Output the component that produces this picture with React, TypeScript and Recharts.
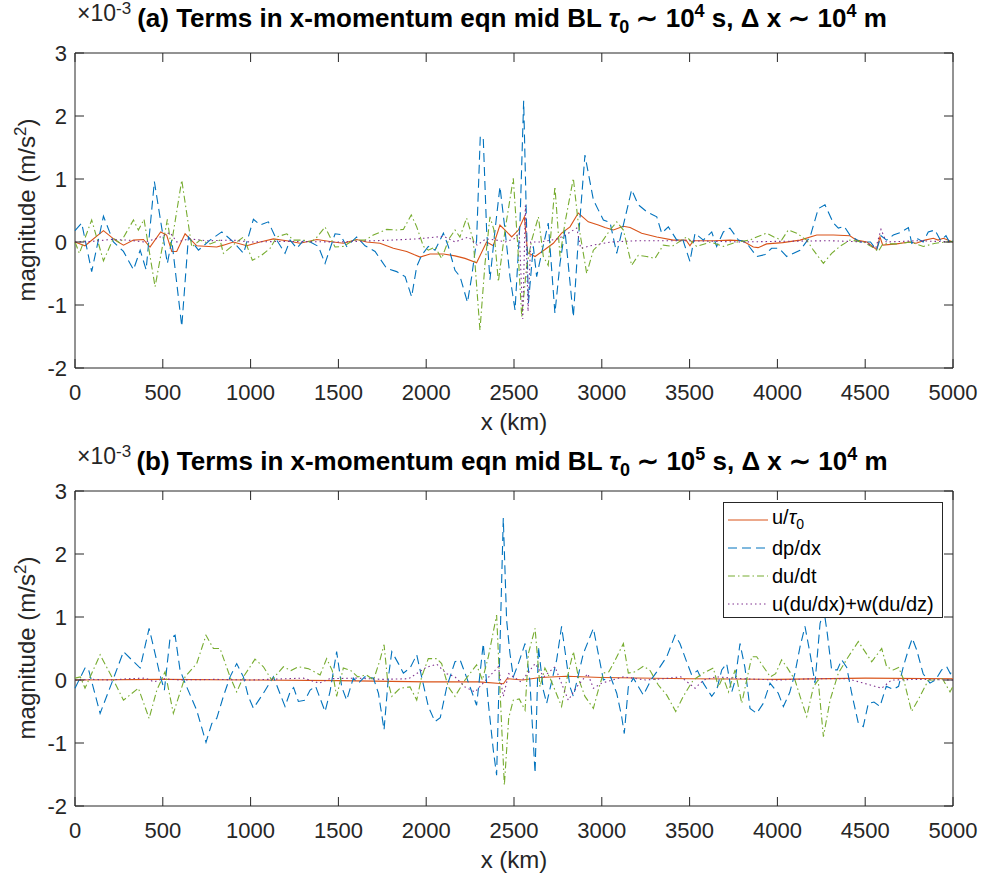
import React from 'react';
import { LineChart, Line, XAxis, YAxis, ReferenceArea, Legend } from 'recharts';

// values are in units of 1e-3 m/s^2, x in km
const xTicks = [0, 500, 1000, 1500, 2000, 2500, 3000, 3500, 4000, 4500, 5000];
const yTicks = [-2, -1, 0, 1, 2, 3];

// panel (a): tau0 ~ 1e4 s
const aU: [number, number][] = [[0,0],[57,-0.06],[162,0.18],[228,0.03],[276,-0.05],[333,0.03],[390,0.04],[427,-0.08],[488,0.16],[522,0.11],[551,-0.15],[579,-0.15],[627,0.13],[693,-0.06],[807,-0.08],[845,-0.05],[902,0],[978,-0.06],[1054,0],[1130,0.05],[1206,0.02],[1282,-0.02],[1377,0.04],[1471,0],[1528,-0.02],[1604,0.04],[1661,0],[1737,-0.02],[1813,-0.1],[1889,-0.15],[1930,-0.2],[1965,-0.24],[2022,-0.19],[2098,-0.19],[2164,-0.22],[2221,-0.26],[2287,-0.33],[2344,0],[2382,-0.06],[2420,0.27],[2449,0.19],[2487,0.08],[2525,0.19],[2559,0.4],[2578,-0.17],[2620,-0.23],[2676,-0.12],[2724,-0.02],[2771,0.14],[2819,0.24],[2866,0.46],[2923,0.32],[2980,0.27],[3018,0.23],[3066,0.19],[3123,0.25],[3161,0.23],[3227,0.14],[3313,0.08],[3407,0.03],[3480,0.03],[3502,-0.06],[3520,0.02],[3640,0.02],[3730,0.03],[3800,0.02],[3863,-0.08],[3890,-0.09],[3939,-0.03],[4030,-0.01],[4129,0.03],[4224,0.11],[4319,0.11],[4413,0.1],[4450,0.03],[4510,0],[4565,-0.12],[4584,0.08],[4600,-0.05],[4680,-0.03],[4750,0],[4790,-0.02],[4840,0.03],[4888,0.06],[4915,0.03],[4945,0.06],[5000,0]];
const aP: [number, number][] = [[0,0.18],[38,0.3],[95,-0.47],[162,0.41],[219,0],[276,-0.15],[333,-0.44],[371,-0.13],[405,-0.44],[452,0.96],[526,-0.34],[551,0.03],[608,-1.34],[646,0.08],[703,-0.13],[769,0.03],[836,0.16],[902,0],[960,-0.18],[1016,0.36],[1054,0.27],[1101,0.32],[1149,0.03],[1196,-0.18],[1225,0.03],[1263,-0.1],[1300,0.02],[1340,0],[1386,-0.07],[1424,-0.34],[1481,0.13],[1510,0.12],[1547,-0.07],[1604,0.08],[1652,-0.06],[1709,-0.15],[1775,-0.42],[1832,-0.47],[1880,-0.55],[1917,-0.87],[1946,-0.39],[1974,-0.21],[2012,-0.07],[2050,-0.13],[2098,0.14],[2126,-0.07],[2164,-0.45],[2193,-0.55],[2235,-0.96],[2259,-0.55],[2287,0.03],[2308,1.68],[2325,1.64],[2344,0.19],[2363,-0.6],[2392,0.19],[2420,0.88],[2449,0.19],[2477,-0.55],[2506,-1.08],[2534,0.3],[2555,2.24],[2582,-0.97],[2610,-0.07],[2629,-0.55],[2657,-0.18],[2695,0.3],[2733,-1.13],[2762,-0.34],[2790,0.19],[2838,-1.19],[2866,0.03],[2904,1.38],[2952,0.67],[2980,0.51],[3009,0.35],[3047,0.31],[3085,-0.18],[3170,0.83],[3208,0.59],[3256,0.48],[3313,0.4],[3341,0.14],[3379,0.24],[3427,0.03],[3460,0.05],[3502,-0.31],[3531,0.14],[3578,0.03],[3626,0.16],[3654,-0.07],[3692,0.16],[3730,0.22],[3778,0.03],[3820,0],[3882,-0.23],[3930,-0.2],[3967,-0.1],[4010,-0.1],[4053,-0.23],[4129,-0.13],[4186,0.08],[4233,0.53],[4271,0.59],[4319,0.3],[4347,0.22],[4380,0.25],[4413,0.11],[4470,0],[4530,0],[4565,-0.13],[4590,0.1],[4622,0.03],[4660,0.11],[4700,0.15],[4746,0.23],[4765,-0.02],[4800,0.05],[4830,0],[4859,0.16],[4897,0.19],[4930,0.02],[4960,0.1],[4983,-0.02],[5000,0.02]];
const aD: [number, number][] = [[0,0],[25,-0.18],[95,0.35],[162,-0.3],[219,0.06],[257,-0.02],[333,0.35],[361,0.19],[393,0.36],[456,-0.71],[526,0.36],[547,-0.07],[608,0.98],[665,-0.08],[712,0.03],[769,-0.03],[826,0.03],[845,-0.18],[921,0],[960,0.08],[1010,-0.29],[1063,-0.21],[1111,-0.1],[1149,0.08],[1206,0.13],[1244,0.03],[1301,0.03],[1339,0],[1370,0.05],[1424,0.24],[1481,-0.08],[1528,-0.07],[1585,0.03],[1652,0.03],[1699,0.11],[1775,0.2],[1832,0.19],[1870,0.2],[1915,0.43],[1946,0.24],[1984,-0.07],[2012,-0.13],[2050,-0.08],[2088,-0.26],[2130,0.05],[2164,0.19],[2192,0.08],[2230,0.38],[2268,0.03],[2306,-1.4],[2335,-0.34],[2363,0.4],[2385,0.2],[2411,-0.63],[2449,0.19],[2496,1.01],[2520,0],[2544,-1.19],[2572,-0.39],[2601,0.03],[2639,0.4],[2667,-0.23],[2695,-0.37],[2733,0.88],[2762,-0.23],[2790,0.3],[2838,1.01],[2866,0.3],[2914,-0.5],[2952,-0.13],[3000,0],[3047,0.19],[3085,0.32],[3123,0.19],[3170,-0.37],[3208,-0.21],[3255,-0.23],[3303,-0.26],[3350,-0.05],[3400,-0.07],[3483,0.08],[3540,-0.07],[3620,0],[3692,-0.07],[3770,0],[3844,0.03],[3882,0.08],[3939,0.14],[3980,0.08],[4024,0.03],[4062,0.19],[4110,0.14],[4167,0.03],[4205,-0.13],[4262,-0.34],[4309,-0.18],[4356,-0.07],[4413,0.03],[4490,0],[4540,-0.08],[4575,-0.15],[4600,-0.03],[4680,-0.03],[4760,0],[4831,-0.07],[4900,-0.02],[4960,0],[5000,0.01]];
const aN: [number, number][] = [[0,0],[100,0.01],[200,0.04],[300,0.03],[400,0],[470,0.06],[541,0.15],[580,0],[650,0.05],[750,0.02],[900,0.03],[1000,0],[1200,0.01],[1500,0],[1800,0.03],[1950,0.05],[2100,0.09],[2164,0],[2240,0.08],[2290,-0.05],[2340,0.05],[2400,0.03],[2450,0],[2500,0.05],[2530,0.15],[2550,-1.22],[2565,0.58],[2580,-1.1],[2595,0],[2650,0],[2750,0.05],[2809,0.14],[2857,0.22],[2880,-0.1],[2950,-0.05],[3050,0],[3200,0.02],[3500,0.02],[3800,0],[4000,0.01],[4300,0.02],[4500,0],[4560,-0.1],[4590,0.2],[4620,0],[4800,0.02],[5000,0]];

// panel (b): tau0 ~ 1e5 s
const bU: [number, number][] = [[0,0],[500,0.01],[1000,0],[1500,-0.01],[2000,-0.03],[2300,-0.03],[2440,-0.06],[2460,0.02],[2550,0],[2650,0.04],[2800,0.06],[3000,0.04],[3500,0.02],[4000,0.01],[4500,0.03],[5000,0.02]];
const bP: [number, number][] = [[0,-0.13],[57,0.19],[75,0.19],[143,-0.53],[209,-0.05],[276,0.45],[323,0.32],[371,0.19],[422,0.82],[456,0.42],[484,0.08],[509,-0.16],[541,0.66],[570,0.71],[598,0.16],[627,-0.05],[693,-0.48],[746,-0.99],[779,-0.69],[807,-0.61],[845,-0.26],[883,0.05],[921,0.26],[959,0.05],[987,-0.26],[1016,-0.45],[1073,-0.21],[1130,0.05],[1196,-0.42],[1225,-0.19],[1245,-0.12],[1272,-0.34],[1310,-0.32],[1339,-0.16],[1370,-0.1],[1424,-0.5],[1452,-0.19],[1490,0.45],[1519,-0.11],[1547,-0.32],[1585,0.03],[1614,-0.05],[1650,0.05],[1699,0.03],[1728,-0.21],[1760,-0.79],[1785,0.05],[1804,0.45],[1842,0.26],[1870,0.11],[1908,0.19],[1946,0.4],[1974,0.05],[2012,-0.42],[2050,-0.66],[2080,-0.6],[2117,-0.11],[2164,0.29],[2193,0.32],[2221,0.11],[2287,-0.4],[2325,0.58],[2354,-0.37],[2382,-1.11],[2401,-1.51],[2439,2.57],[2458,0.95],[2477,0.42],[2496,0.05],[2525,0.26],[2563,0.58],[2590,0],[2620,-1.48],[2639,0.53],[2667,-0.16],[2686,-0.37],[2743,0.32],[2771,0.85],[2819,-0.11],[2838,-0.26],[2895,0.42],[2952,0.82],[2980,0.42],[3009,0],[3050,0.05],[3085,-0.21],[3113,-0.58],[3128,-0.85],[3151,-0.11],[3180,0.03],[3237,-0.24],[3280,0],[3313,0.13],[3370,0.37],[3417,0.71],[3445,0.58],[3483,0.29],[3512,0.08],[3545,0.15],[3578,-0.05],[3626,-0.26],[3655,-0.15],[3683,0.16],[3711,0.26],[3740,-0.19],[3760,0],[3787,0.58],[3815,0.2],[3844,-0.45],[3882,-0.53],[3920,-0.37],[3958,-0.05],[4005,-0.21],[4034,-0.42],[4070,-0.2],[4100,0.11],[4129,0.53],[4157,0.85],[4186,0.42],[4214,-0.05],[4243,0.9],[4265,1.11],[4284,0.74],[4309,0.16],[4341,0.16],[4366,0.32],[4395,0.2],[4423,-0.21],[4461,-0.69],[4489,-0.74],[4518,-0.37],[4550,-0.35],[4584,-0.42],[4620,-0.1],[4660,-0.15],[4690,-0.1],[4717,0.21],[4746,0.48],[4768,0.66],[4793,0.48],[4830,0.1],[4869,-0.05],[4900,0],[4935,0.16],[4964,0.21],[4985,0.1],[5000,0.15]];
const bD: [number, number][] = [[0,0.03],[30,0.05],[57,-0.13],[143,0.4],[219,0],[276,-0.32],[361,-0.13],[422,-0.61],[466,-0.16],[513,0.13],[560,-0.53],[627,0.05],[693,0.26],[746,0.71],[788,0.5],[826,0.5],[883,0.05],[921,-0.19],[959,0.05],[997,0.21],[1025,0.33],[1073,0.21],[1120,0],[1187,0.21],[1230,0.15],[1272,0.21],[1330,0.18],[1396,0.08],[1433,0.34],[1465,0.15],[1490,-0.26],[1528,0.19],[1570,0.15],[1610,0.05],[1660,0.08],[1700,0],[1737,0.32],[1760,0.56],[1780,0],[1804,-0.26],[1851,-0.13],[1908,-0.11],[1946,-0.32],[1974,0.05],[2012,0.34],[2060,0.34],[2088,0.26],[2126,-0.11],[2164,-0.26],[2221,0],[2287,0.24],[2320,0],[2354,0.37],[2401,1.03],[2445,-1.67],[2470,-0.6],[2496,-0.32],[2530,-0.3],[2563,-0.48],[2582,0.42],[2620,0.82],[2648,-0.11],[2676,0.19],[2710,0],[2771,-0.42],[2800,0],[2838,0.45],[2870,0],[2904,-0.26],[2952,-0.45],[2980,-0.16],[3009,0.11],[3040,0.13],[3066,0.26],[3123,0.58],[3151,0.11],[3190,0.13],[3237,0.22],[3275,0.15],[3322,-0.08],[3370,-0.24],[3421,-0.5],[3464,-0.26],[3521,0],[3578,0.11],[3635,0.19],[3664,-0.11],[3690,0.05],[3721,-0.19],[3759,0.16],[3797,-0.37],[3825,0],[3854,0.37],[3882,0.37],[3920,0.21],[3960,0.05],[3990,0.1],[4024,0.32],[4055,0.2],[4100,0],[4129,-0.26],[4167,-0.58],[4205,-0.11],[4232,0],[4262,-0.9],[4300,-0.32],[4347,0.11],[4404,0.37],[4461,0.61],[4499,0.45],[4537,0.29],[4594,0.5],[4622,0.21],[4660,0.16],[4690,0.2],[4720,0],[4764,-0.5],[4812,-0.26],[4860,0],[4900,0],[4940,0.02],[4983,-0.19],[5000,-0.1]];
const bN: [number, number][] = [[0,0],[100,0.01],[200,0],[300,0.02],[400,0.03],[450,-0.03],[500,0.02],[600,0],[800,0.01],[1000,0],[1200,0.02],[1300,0.03],[1390,-0.05],[1450,0.02],[1600,0.03],[1750,0.01],[1900,0.02],[2000,0.2],[2060,0.25],[2117,0.1],[2164,0.05],[2221,-0.11],[2278,-0.19],[2340,0],[2411,0.21],[2439,-0.26],[2470,0.1],[2540,-0.03],[2620,0.26],[2670,0.05],[2733,0.21],[2809,-0.32],[2860,-0.1],[2920,0.1],[2952,-0.13],[3000,-0.05],[3123,0.05],[3250,0],[3350,0.02],[3450,0.05],[3531,-0.13],[3580,0],[3650,0.05],[3800,0.02],[4000,0],[4200,0.02],[4400,0.02],[4594,-0.13],[4650,0],[4800,0.01],[5000,0]];

const FONT = '"Liberation Sans", Arial, Helvetica, sans-serif';
const AX = '#262626';
const W = 982;
const H = 440;
const PT = 53;
const PB = 368;
const PL = 75;
const PR = 953;

const styles = [
  { key: 'u', color: '#D95319', dash: undefined as string | undefined },
  { key: 'p', color: '#0072BD', dash: '9 5' },
  { key: 'd', color: '#77AC30', dash: '7 3 1.5 3' },
  { key: 'n', color: '#7E2F8E', dash: '1.5 3' },
];

const toPts = (arr: [number, number][]) => arr.map(([x, v]) => ({ x, v }));

const XTick = (props: any) => {
  const { x, payload } = props;
  return (
    <g>
      <line x1={x} x2={x} y1={PB} y2={PB - 9} stroke={AX} />
      <line x1={x} x2={x} y1={PT} y2={PT + 9} stroke={AX} />
      <text x={x} y={PB + 32} textAnchor="middle" fontSize={22} fill={AX} fontFamily={FONT}>
        {payload.value}
      </text>
    </g>
  );
};

const YTick = (props: any) => {
  const { y, payload } = props;
  return (
    <g>
      <line x1={PL} x2={PL + 9} y1={y} y2={y} stroke={AX} />
      <line x1={PR} x2={PR - 9} y1={y} y2={y} stroke={AX} />
      <text x={PL - 8} y={y + 8} textAnchor="end" fontSize={22} fill={AX} fontFamily={FONT}>
        {payload.value}
      </text>
    </g>
  );
};

const legendRows = [
  { color: styles[0].color, dash: styles[0].dash, label: <span>u/<i>τ</i><sub style={{ fontSize: 14 }}>0</sub></span> },
  { color: styles[1].color, dash: styles[1].dash, label: <span>dp/dx</span> },
  { color: styles[2].color, dash: styles[2].dash, label: <span>du/dt</span> },
  { color: styles[3].color, dash: styles[3].dash, label: <span>u(du/dx)+w(du/dz)</span> },
];

const LegendBox = () => (
  <div
    style={{
      width: 220,
      height: 116,
      border: `1px solid ${AX}`,
      background: '#fff',
      boxSizing: 'border-box',
      paddingTop: 3,
      fontFamily: FONT,
      fontSize: 20,
      color: '#000',
    }}
  >
    {legendRows.map((r, i) => (
      <div key={i} style={{ height: 28, display: 'flex', alignItems: 'center' }}>
        <svg width={48} height={28} style={{ flex: 'none' }}>
          <line x1={4} x2={44} y1={14} y2={14} stroke={r.color} strokeWidth={1} strokeDasharray={r.dash} />
        </svg>
        <div style={{ lineHeight: '28px', whiteSpace: 'nowrap' }}>{r.label}</div>
      </div>
    ))}
  </div>
);

type PanelProps = {
  top: number;
  series: [number, number][][];
  legend?: boolean;
};

const Panel = ({ top, series, legend }: PanelProps) => (
  <div style={{ position: 'absolute', left: 0, top }}>
    <LineChart width={W} height={H} margin={{ top: PT, right: W - PR, left: 0, bottom: 0 }}>
      <XAxis
        type="number"
        dataKey="x"
        domain={[0, 5000]}
        ticks={xTicks}
        interval={0}
        axisLine={false}
        tickLine={false}
        height={H - PB}
        tick={<XTick />}
      />
      <YAxis
        type="number"
        dataKey="v"
        domain={[-2, 3]}
        ticks={yTicks}
        interval={0}
        axisLine={false}
        tickLine={false}
        width={PL}
        tick={<YTick />}
        allowDataOverflow
      />
      <ReferenceArea x1={0} x2={5000} y1={-2} y2={3} fill="none" stroke={AX} strokeWidth={1} strokeOpacity={1} fillOpacity={0} />
      {series.map((s, i) => (
        <Line
          key={styles[i].key}
          data={toPts(s)}
          dataKey="v"
          type="linear"
          stroke={styles[i].color}
          strokeWidth={1.1}
          strokeDasharray={styles[i].dash}
          dot={false}
          activeDot={false}
          isAnimationActive={false}
        />
      ))}
      {legend && (
        <Legend
          layout="vertical"
          align="center"
          verticalAlign="middle"
          content={<LegendBox />}
          wrapperStyle={{ left: 723, top: 64, width: 220, height: 116 }}
        />
      )}
    </LineChart>
  </div>
);

const Title = ({ dy, ty, letter, tauExp }: { dy: number; ty: number; letter: string; tauExp: string }) => (
  <g fontFamily={FONT} fill="#000">
    <text x={77} y={ty + 21} fontSize={23} fill={AX}>
      ×10<tspan dy={-7} fontSize={17}>-3</tspan>
    </text>
    <text x={512} y={ty + 27} textAnchor="middle" fontSize={26} fontWeight="bold">
      {`(${letter}) Terms in x-momentum eqn mid BL `}
      <tspan fontStyle="italic">τ</tspan>
      <tspan dy={6} fontSize={18}>0</tspan>
      <tspan dy={-6}>{' ∼ 10'}</tspan>
      <tspan dy={-10} fontSize={18}>{tauExp}</tspan>
      <tspan dy={10}>{' s, Δ x ∼ 10'}</tspan>
      <tspan dy={-10} fontSize={18}>4</tspan>
      <tspan dy={10}>{' m'}</tspan>
    </text>
    <text transform={`translate(35, ${dy + 210}) rotate(-90)`} textAnchor="middle" fontSize={24} fill={AX}>
      magnitude (m/s<tspan dy={-9} fontSize={17}>2</tspan>
      <tspan dy={9}>)</tspan>
    </text>
    <text x={514} y={dy + 430} textAnchor="middle" fontSize={24} fill={AX}>
      x (km)
    </text>
  </g>
);

export default function App() {
  return (
    <div style={{ position: 'absolute', left: 0, top: 0, width: 982, height: 881, background: '#fff' }}>
      <Panel top={0} series={[aU, aP, aD, aN]} />
      <Panel top={438} series={[bU, bP, bD, bN]} legend />
      <svg width={982} height={881} style={{ position: 'absolute', left: 0, top: 0, pointerEvents: 'none' }}>
        <Title dy={0} ty={0} letter="a" tauExp="4" />
        <Title dy={438} ty={443} letter="b" tauExp="5" />
      </svg>
    </div>
  );
}
